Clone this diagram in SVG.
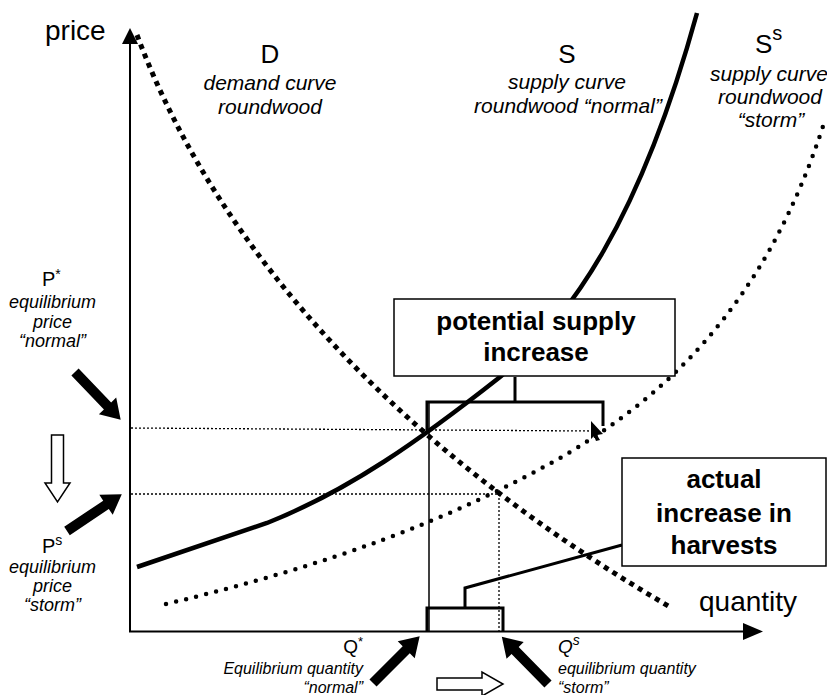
<svg xmlns="http://www.w3.org/2000/svg" xmlns:xlink="http://www.w3.org/1999/xlink" width="827" height="695" viewBox="0 0 827 695">
<style>
text{font-family:"Liberation Sans",Arial,sans-serif;fill:#000}
.ax{font-size:28px}
.big{font-size:26px}
.it{font-size:21px;font-style:italic}
.sm{font-size:18px;font-style:italic}
.q{font-size:16px;font-style:italic}
.bold{font-size:26px;font-weight:bold}
.axis{stroke:#000;stroke-width:2;fill:none}
.guide{stroke:#000;stroke-width:1.3;stroke-dasharray:2 2;fill:none}
.brk{stroke:#000;stroke-width:3;fill:none}
.box{fill:#fff;stroke:#000;stroke-width:1.5}
.hollow{fill:#fff;stroke:#000;stroke-width:1.5}
</style>
<defs>
<path id="blk" d="M0,-5 L47,-5 L47,-12 L66,0 L47,12 L47,5 L0,5 Z" fill="#000"/>
</defs>
<rect width="827" height="695" fill="#fff"/>

<g id="axes">
<line class="axis" x1="130" y1="40" x2="130" y2="632"/>
<polygon points="122,44 130,28 138,44" fill="#000"/>
<line class="axis" x1="129" y1="631.5" x2="748" y2="631.5"/>
<polygon points="743,623 763,631.5 743,640" fill="#000"/>
<text class="ax" x="45" y="40">price</text>
<text class="ax" x="699" y="611">quantity</text>
</g>

<g id="connectors">
<line class="guide" x1="131" y1="428" x2="591" y2="431"/>
<polygon points="591,421 603,434 597,435 600,440 596,441 594,436 591,439" fill="#000"/>
<line class="guide" x1="131" y1="494" x2="499" y2="494"/>
<line class="guide" x1="499" y1="494" x2="499" y2="631"/>
<line stroke="#000" stroke-width="1.5" x1="429" y1="402" x2="429" y2="631"/>
<path id="curve-D" d="M137,35 C222,262 410,455 670,607" fill="none" stroke="#000" stroke-width="5" stroke-dasharray="5 5"/>
<path id="curve-S" d="M137,567 L267,523 C350,490 420,440 500,377 C570,320 640,220 697,13" fill="none" stroke="#000" stroke-width="4.5"/>
<path id="curve-Ss" d="M166,604 C330,565 450,520 560,458 C660,400 765,310 825,120" fill="none" stroke="#000" stroke-width="4.5" stroke-linecap="round" stroke-dasharray="0 10.3"/>
<path class="brk" d="M427,430 L427,402 L603,402 L603,426 M515,377 L515,402"/>
<path class="brk" d="M427,631 L427,608 L503,608 L503,631 M465,608 L465,588 L622,545"/>
<use xlink:href="#blk" transform="translate(75,372) rotate(46.2)"/>
<use xlink:href="#blk" transform="translate(67,531) rotate(-33.9)"/>
<use xlink:href="#blk" transform="translate(373,683) rotate(-45)"/>
<use xlink:href="#blk" transform="translate(548,684) rotate(-134.4)"/>
<path class="hollow" d="M51.5,435 L63.5,435 L63.5,483 L70,483 L57.5,502 L45,483 L51.5,483 Z"/>
<path class="hollow" d="M437,678 L482,678 L482,672 L503,684 L482,696 L482,690 L437,690 Z"/>
</g>

<g id="label-D">
<text class="big" x="270" y="63" text-anchor="middle">D</text>
<text class="it" x="270" y="90" text-anchor="middle">demand curve</text>
<text class="it" x="270" y="114" text-anchor="middle">roundwood</text>
</g>

<g id="label-S">
<text class="big" x="567" y="63" text-anchor="middle">S</text>
<text class="it" x="567" y="89" text-anchor="middle">supply curve</text>
<text class="it" x="568" y="113" text-anchor="middle">roundwood “normal”</text>
</g>

<g id="label-Ss">
<text class="big" x="755" y="53">S<tspan font-size="20" dy="-13">s</tspan></text>
<text class="it" x="769" y="81" text-anchor="middle">supply curve</text>
<text class="it" x="770" y="104" text-anchor="middle">roundwood</text>
<text class="it" x="771" y="127" text-anchor="middle">“storm”</text>
</g>

<g id="label-Pstar">
<text x="42" y="286" font-size="20">P<tspan font-size="14" dy="-7">*</tspan></text>
<text class="sm" x="52.5" y="308" text-anchor="middle">equilibrium</text>
<text class="sm" x="52.5" y="328" text-anchor="middle">price</text>
<text class="sm" x="52.5" y="347" text-anchor="middle">“normal”</text>
</g>

<g id="label-Ps">
<text x="42" y="553" font-size="20">P<tspan font-size="14" dy="-8">s</tspan></text>
<text class="sm" x="52.5" y="573" text-anchor="middle">equilibrium</text>
<text class="sm" x="52.5" y="592" text-anchor="middle">price</text>
<text class="sm" x="52.5" y="611" text-anchor="middle">“storm”</text>
</g>

<g id="label-Qstar">
<text x="363" y="653" font-size="19" text-anchor="end">Q<tspan font-size="13" dy="-7">*</tspan></text>
<text class="q" x="363" y="674" text-anchor="end">Equilibrium quantity</text>
<text class="q" x="363" y="693" text-anchor="end">“normal”</text>
</g>

<g id="label-Qs">
<text x="558" y="653" font-size="19" font-style="italic">Q<tspan font-size="14" dy="-8">s</tspan></text>
<text class="q" x="558" y="674">equilibrium quantity</text>
<text class="q" x="558" y="693">“storm”</text>
</g>

<g id="box-potential">
<rect class="box" x="394" y="299" width="281" height="77"/>
<text class="bold" x="536" y="330" text-anchor="middle">potential supply</text>
<text class="bold" x="536" y="361" text-anchor="middle">increase</text>
</g>

<g id="box-actual">
<rect class="box" x="622" y="458" width="204" height="108"/>
<text class="bold" x="724" y="488" text-anchor="middle">actual</text>
<text class="bold" x="724" y="522" text-anchor="middle">increase in</text>
<text class="bold" x="724" y="554" text-anchor="middle">harvests</text>
</g>
</svg>
